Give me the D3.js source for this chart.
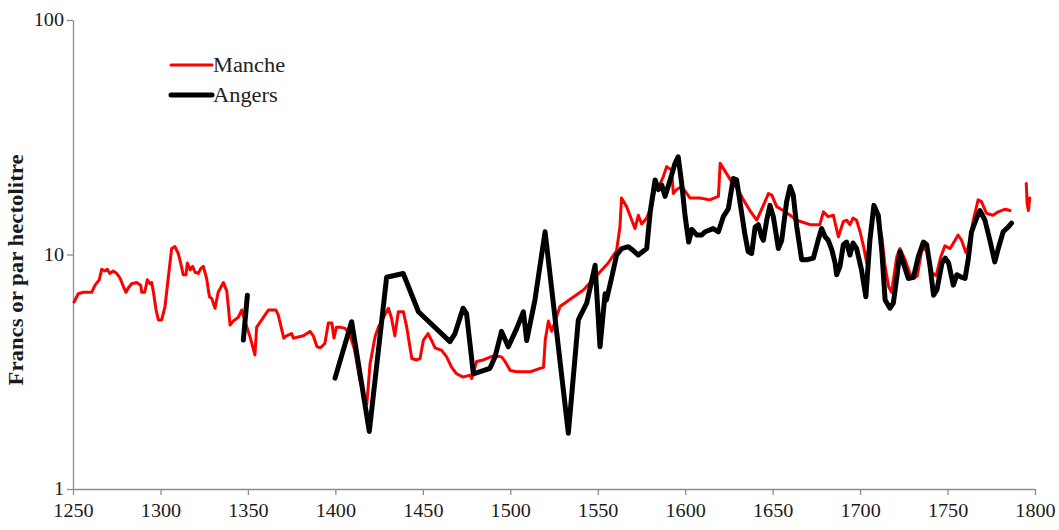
<!DOCTYPE html>
<html>
<head>
<meta charset="utf-8">
<script src="https://cdn.jsdelivr.net/npm/d3@7"></script>
<style>
  html, body { margin: 0; padding: 0; background: #fff; }
  svg { display: block; }
  text { font-family: "Liberation Serif", "Times New Roman", serif; }
</style>
</head>
<body>
<svg id="chart" width="1059" height="530"></svg>
<script>
// ---------- DATA ----------
const seriesNames = ["Manche", "Angers"];
const xTickValues = [1250, 1300, 1350, 1400, 1450, 1500, 1550, 1600, 1650, 1700, 1750, 1800];
const yTickValues = [1, 10, 100];
const yAxisTitle = "Francs or par hectolitre";

const mancheYears = [1250.6,1253,1256,1260.7,1262.6,1265,1266.4,1268.3,1269.6,1271,1273,1275,1277,1278.8,1280.3,1281.6,1283.5,1286.4,1288.7,1289.3,1291,1292.5,1294,1295,1296,1297.5,1298.8,1300.7,1302.6,1304.5,1306.4,1308.3,1310.2,1312,1313,1314.6,1315.4,1317,1318.4,1319.8,1321.6,1323,1324.5,1326.4,1328,1329.3,1331.2,1333,1336,1337.9,1338.8,1339.8,1341.6,1344.5,1346.5,1348.3,1351.2,1354,1355,1357.9,1361.7,1366,1367.4,1370.5,1372,1375,1376,1381.7,1385.5,1387.4,1389.5,1391.5,1394,1396,1398,1399.2,1400.6,1402.7,1405.5,1408,1411,1414,1418,1419.8,1422.7,1424.6,1430.3,1432,1434,1436,1438.9,1440.8,1443.7,1446.5,1448.4,1450.3,1453,1455,1457,1460.8,1463.6,1466.5,1469.3,1473,1477,1478,1480.8,1484.6,1490.3,1495,1497,1500,1503.7,1511.3,1517,1519,1520,1521.8,1523.7,1528.4,1541.8,1556,1560.8,1562.7,1563.6,1566.5,1571.3,1573.2,1575.1,1578,1580.8,1582.7,1584.6,1587.5,1589.4,1592.3,1593.2,1595,1598,1602.8,1608.5,1614,1619,1620,1621.8,1626.6,1630.4,1633.3,1637,1640.9,1644.7,1647.6,1649.5,1652.3,1656,1660,1663.8,1671.4,1677,1679,1681.8,1684.7,1687.6,1690.4,1692.3,1694.2,1696,1698,1700,1702,1703.8,1706,1708,1709.7,1712.4,1714.3,1716.3,1718,1721,1722.8,1725.7,1728.5,1730.5,1732.7,1735.2,1736.5,1738.5,1741,1743.5,1746,1748.5,1751.5,1754.3,1756,1758,1760.5,1762,1764.7,1767.5,1769.4,1772.2,1776,1779,1783,1785.7,1790,1795,1795.5,1796.2,1797];
const mancheValues = [6.27,6.8,6.9,6.9,7.4,7.8,8.65,8.5,8.65,8.3,8.5,8.3,7.9,7.3,6.9,7.2,7.5,7.6,7.4,6.9,6.9,7.8,7.5,7.6,6.9,5.8,5.26,5.26,6.0,8.0,10.6,10.8,10.1,8.9,8.2,8.2,9.2,8.6,8.9,8.4,8.3,8.7,8.9,7.9,6.6,6.5,5.9,6.9,7.6,7.0,6.0,5.0,5.2,5.4,5.8,5.2,4.46,3.73,4.9,5.26,5.8,5.8,5.5,4.4,4.5,4.6,4.4,4.5,4.7,4.5,4.04,4.0,4.18,5.1,5.1,4.4,4.9,4.9,4.84,4.6,3.92,2.92,2.3,3.4,4.46,4.9,5.9,5.4,4.5,5.7,5.7,4.9,3.6,3.55,3.6,4.3,4.6,4.3,4.0,3.9,3.66,3.3,3.1,3.0,3.06,2.96,3.5,3.55,3.7,3.66,3.5,3.2,3.16,3.16,3.27,3.3,4.32,5.2,4.7,6.0,7.06,9.2,10.4,13.1,17.4,16.0,12.9,14.7,13.5,14.3,16,18.9,19.2,21.5,23.7,22.9,18.2,18.9,19.5,17.4,17.4,17.1,17.7,24.5,23.3,20.4,18.8,17.1,15.4,14.0,16.2,18.2,17.9,16.0,15.4,14.7,14.0,13.4,13.4,15.2,14.5,14.7,11.9,13.8,14.0,13.4,14.3,14.0,12.5,10.8,9.2,12.5,16.0,14.5,11.9,8.9,7.3,6.9,9.8,10.6,9.5,8.3,7.9,8.1,10.4,10.6,10.3,8.4,8.1,9.7,10.9,10.6,11.5,12.1,11.5,10.2,10.8,14.0,17.1,16.8,15.0,14.7,15.2,15.6,15.4,null,20.1,16.5,15.4,17.4];

const angersYears = [1347.4,1349.7,1375,1399.8,1409.3,1419.4,1429.3,1438.8,1447.5,1465.5,1468.4,1473,1475,1478.9,1488.4,1491.3,1495,1498.9,1503.7,1507.5,1509.4,1514.1,1519.9,1533.2,1538.9,1543.7,1548.5,1551.3,1554.2,1555,1558,1560.8,1563.7,1567.5,1570.3,1573.2,1578,1580,1582.8,1584.7,1586.6,1588.5,1591.4,1594.2,1596,1598,1600,1602,1603.8,1606.7,1609.5,1611.4,1616,1619,1621.8,1624.7,1627.5,1629.4,1632.3,1634.2,1636,1638,1640,1641.8,1643.7,1644.7,1646.6,1648.5,1650.4,1653.3,1655.2,1658,1660,1661.8,1663.8,1666.6,1669.5,1673.3,1676,1678,1680,1681.8,1683.8,1685.7,1686.6,1688.5,1690.4,1692.3,1694.2,1696,1698,1700.8,1703.3,1705.6,1707.9,1710.4,1712.4,1714.3,1717.1,1719,1721,1722.8,1724.7,1727.6,1730.5,1733.3,1736.2,1738.1,1740,1742,1744,1746.8,1748.7,1750.6,1753.3,1755.3,1758,1760,1761.8,1763.7,1766.6,1768.5,1771.4,1774.2,1777,1779,1781.8,1784.7,1786.6];
const angersValues = [4.32,6.7,null,2.97,5.17,1.76,8.0,8.3,5.7,4.25,4.6,5.9,5.6,3.1,3.27,3.66,4.7,4.04,4.84,5.7,4.3,6.4,12.5,1.73,5.26,6.2,9.0,4.04,6.8,6.4,8.0,9.95,10.6,10.8,10.4,9.95,10.6,15.2,20.8,18.9,19.8,17.7,20.8,24.5,26.1,20.1,14.5,11.3,12.8,12.1,12.1,12.5,12.9,12.5,14.5,15.7,21.1,20.8,15,12.1,10.3,10.1,13.1,13.4,11.9,11.5,14.0,16.2,14.5,10.6,11.5,16.8,19.5,17.9,13.1,9.5,9.5,9.65,11.5,12.9,11.9,11.5,10.5,9.2,8.2,8.9,11.0,11.3,9.95,11.2,10.6,8.6,6.6,11.5,16.2,14.7,10.4,6.4,5.9,6.2,8.0,10.3,9.2,7.9,8.0,9.8,11.3,11.0,8.9,6.7,7.1,9.2,9.65,9.2,7.4,8.2,8.0,7.9,9.5,12.5,14.3,15.4,14.0,11.5,9.3,10.6,12.5,13.1,13.6];

// ---------- CHART ----------
const svg = d3.select("#chart");
const x = d3.scaleLinear().domain([1250, 1800]).range([73, 1035]);
const y = d3.scaleLog().domain([1, 100]).range([489, 20]);

const axisColor = "#8c8c8c";
const textColor = "#1a1a1a";
const stretch = 1.12; // reference text is slightly wider than tall

function widen(sel, factor) {
  sel.each(function () {
    const w = this.getComputedTextLength();
    d3.select(this).attr("textLength", w * factor).attr("lengthAdjust", "spacingAndGlyphs");
  });
}

// x axis
const xAxis = svg.append("g")
  .attr("transform", "translate(0,489)")
  .call(d3.axisBottom(x).tickValues(xTickValues).tickFormat(d3.format("d")).tickSize(6).tickSizeOuter(0));
xAxis.select(".domain").attr("stroke", axisColor).attr("stroke-width", 1.3);
xAxis.selectAll(".tick line").attr("stroke", axisColor).attr("stroke-width", 1.3);
xAxis.selectAll(".tick text")
  .attr("fill", textColor).attr("font-size", 18).attr("dy", "1.05em")
  .style("font-family", "'Liberation Serif', serif");
widen(xAxis.selectAll(".tick text"), stretch);

// y axis
const yAxis = svg.append("g")
  .attr("transform", "translate(73,0)")
  .call(d3.axisLeft(y).tickValues(yTickValues).tickFormat(d3.format("d")).tickSize(6).tickSizeOuter(0));
yAxis.select(".domain").attr("stroke", axisColor).attr("stroke-width", 1.3);
yAxis.selectAll(".tick line").attr("stroke", axisColor).attr("stroke-width", 1.3);
yAxis.selectAll(".tick text")
  .attr("fill", textColor).attr("font-size", 18).attr("x", -9)
  .style("font-family", "'Liberation Serif', serif");
widen(yAxis.selectAll(".tick text"), stretch);

// y title
const title = svg.append("text")
  .attr("transform", "translate(23,270) rotate(-90)")
  .attr("text-anchor", "middle")
  .attr("font-size", 20).attr("font-weight", "bold").attr("fill", textColor)
  .text(yAxisTitle);
widen(title, 1.14);

// lines
const mancheData = mancheYears.map((yr, i) => ({ yr, v: mancheValues[i] }));
const angersData = angersYears.map((yr, i) => ({ yr, v: angersValues[i] }));

const line = d3.line()
  .defined(d => d.v != null)
  .x(d => x(d.yr))
  .y(d => y(d.v));

svg.append("path").datum(mancheData)
  .attr("d", line).attr("fill", "none")
  .attr("stroke", "#ff0000").attr("stroke-width", 3)
  .attr("stroke-linejoin", "round").attr("stroke-linecap", "round");

svg.append("path").datum(angersData)
  .attr("d", line).attr("fill", "none")
  .attr("stroke", "#000").attr("stroke-width", 5)
  .attr("stroke-linejoin", "round").attr("stroke-linecap", "round");

// legend
const legend = [
  { name: seriesNames[0], color: "#ff0000", w: 3, yy: 65 },
  { name: seriesNames[1], color: "#000", w: 5, yy: 95 }
];
legend.forEach(l => {
  svg.append("line").attr("x1", 171).attr("x2", 212).attr("y1", l.yy).attr("y2", l.yy)
    .attr("stroke", l.color).attr("stroke-width", l.w).attr("stroke-linecap", "round");
  const t = svg.append("text").attr("x", 213).attr("y", l.yy).attr("dy", "0.35em")
    .attr("font-size", 20).attr("fill", "#222").text(l.name);
  widen(t, stretch);
});
</script>
</body>
</html>
